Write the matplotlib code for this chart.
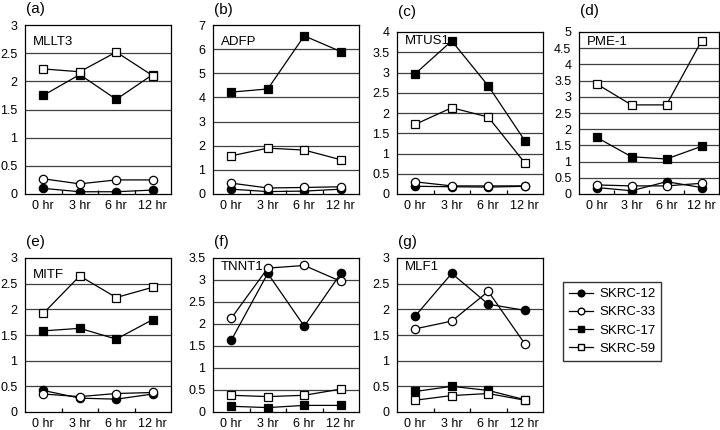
import matplotlib.pyplot as plt
from matplotlib.lines import Line2D

plt.rcParams['font.family'] = ['Liberation Sans', 'DejaVu Sans']

hours = ['0 hr', '3 hr', '6 hr', '12 hr']
series_names = ['SKRC-12', 'SKRC-33', 'SKRC-17', 'SKRC-59']

# (a) MLLT3
mllt3_12 = [0.10, 0.04, 0.04, 0.07]
mllt3_33 = [0.27, 0.18, 0.25, 0.25]
mllt3_17 = [1.75, 2.12, 1.68, 2.12]
mllt3_59 = [2.22, 2.17, 2.52, 2.10]
# (b) ADFP
adfp_12 = [0.20, 0.10, 0.12, 0.20]
adfp_33 = [0.45, 0.25, 0.27, 0.30]
adfp_17 = [4.22, 4.35, 6.55, 5.90]
adfp_59 = [1.58, 1.90, 1.82, 1.42]
# (c) MTUS1
mtus1_12 = [0.19, 0.18, 0.17, 0.19]
mtus1_33 = [0.30, 0.20, 0.20, 0.20]
mtus1_17 = [2.97, 3.78, 2.67, 1.32]
mtus1_59 = [1.72, 2.13, 1.90, 0.77]
# (d) PME-1
pme1_12 = [0.20, 0.10, 0.38, 0.20]
pme1_33 = [0.28, 0.25, 0.25, 0.33]
pme1_17 = [1.75, 1.15, 1.08, 1.47]
pme1_59 = [3.40, 2.75, 2.75, 4.72]
# (e) MITF
mitf_12 = [0.42, 0.27, 0.25, 0.35]
mitf_33 = [0.35, 0.30, 0.36, 0.38]
mitf_17 = [1.58, 1.63, 1.42, 1.80]
mitf_59 = [1.92, 2.65, 2.23, 2.43]
# (f) TNNT1
tnnt1_12 = [1.63, 3.15, 1.95, 3.15]
tnnt1_33 = [2.13, 3.27, 3.33, 2.97]
tnnt1_17 = [0.13, 0.10, 0.15, 0.15]
tnnt1_59 = [0.38, 0.35, 0.38, 0.52]
# (g) MLF1
mlf1_12 = [1.87, 2.70, 2.10, 1.98]
mlf1_33 = [1.62, 1.77, 2.35, 1.33]
mlf1_17 = [0.40, 0.50, 0.42, 0.24]
mlf1_59 = [0.23, 0.32, 0.36, 0.23]

panels = [
    ('(a)', 'MLLT3', 3, 0.5, [mllt3_12, mllt3_33, mllt3_17, mllt3_59]),
    ('(b)', 'ADFP', 7, 1, [adfp_12, adfp_33, adfp_17, adfp_59]),
    ('(c)', 'MTUS1', 4, 0.5, [mtus1_12, mtus1_33, mtus1_17, mtus1_59]),
    ('(d)', 'PME-1', 5, 0.5, [pme1_12, pme1_33, pme1_17, pme1_59]),
    ('(e)', 'MITF', 3, 0.5, [mitf_12, mitf_33, mitf_17, mitf_59]),
    ('(f)', 'TNNT1', 3.5, 0.5, [tnnt1_12, tnnt1_33, tnnt1_17, tnnt1_59]),
    ('(g)', 'MLF1', 3, 0.5, [mlf1_12, mlf1_33, mlf1_17, mlf1_59]),
]

# marker style per series: (marker, facecolor)
styles = [('o', 'black'), ('o', 'white'), ('s', 'black'), ('s', 'white')]

# pixel layout of each panel (figure is 720x430 px)
W, H = 720, 430
lefts = [25, 213, 397, 579, 25, 213, 397]
widths = [146, 146, 146, 140, 146, 146, 146]
tops = [25, 25, 32, 32, 258, 258, 258]
bots = [194, 194, 194, 194, 412, 412, 412]
gene_y = [42, 42, 41, 42, 275, 267, 267]
tag_y = [9, 10, 12, 11, 242, 242, 242]

fig = plt.figure(figsize=(7.2, 4.3), dpi=100)

for i, (tag, gene, ymax, step, data) in enumerate(panels):
    l, w, t, b = lefts[i], widths[i], tops[i], bots[i]
    ax = fig.add_axes([l / W, 1 - b / H, w / W, (b - t) / H])
    x = range(len(hours))
    for k in range(4):
        m, fc = styles[k]
        ax.plot(x, data[k], color='black', lw=0.9, marker=m, ms=6 if m == 'o' else 5.3,
                mfc=fc, mec='black', mew=0.9, zorder=3)
    ax.set_xlim(-0.5, 3.5)
    ax.set_ylim(0, ymax)
    n = int(round(ymax / step))
    yt = [step * j for j in range(n + 1)]
    ax.set_yticks(yt)
    ax.set_yticklabels(['%g' % v for v in yt])
    for v in yt[1:-1]:
        ax.axhline(v, color='#404040', lw=0.9, zorder=1)
    ax.set_xticks(list(x))
    ax.set_xticklabels(hours)
    ax.set_xticks([0.5, 1.5, 2.5], minor=True)
    ax.tick_params(axis='y', which='major', length=0, labelsize=9, pad=5.5)
    ax.tick_params(axis='x', which='major', length=0, labelsize=9, pad=4.5)
    ax.tick_params(axis='x', which='minor', direction='in', length=3, width=0.9)
    for s in ax.spines.values():
        s.set_linewidth(0.9)
    fig.text((l + 8) / W, 1 - gene_y[i] / H, gene, fontsize=9.5, va='center', ha='left')
    fig.text((l + 1) / W, 1 - tag_y[i] / H, tag, fontsize=11, va='center', ha='left')

handles = [Line2D([], [], color='black', lw=0.9, marker=m, mfc=fc, mec='black', ms=4.8 if m == 'o' else 4.3)
           for m, fc in styles]
fig.legend(handles, series_names, loc='upper left', bbox_to_anchor=(563 / W, 1 - 282 / H),
           borderaxespad=0, frameon=True, fancybox=False, edgecolor='black', fontsize=9.5,
           handlelength=1.8, borderpad=0.45, labelspacing=0.45, handletextpad=0.5)

fig.savefig('out.png', dpi=100)
